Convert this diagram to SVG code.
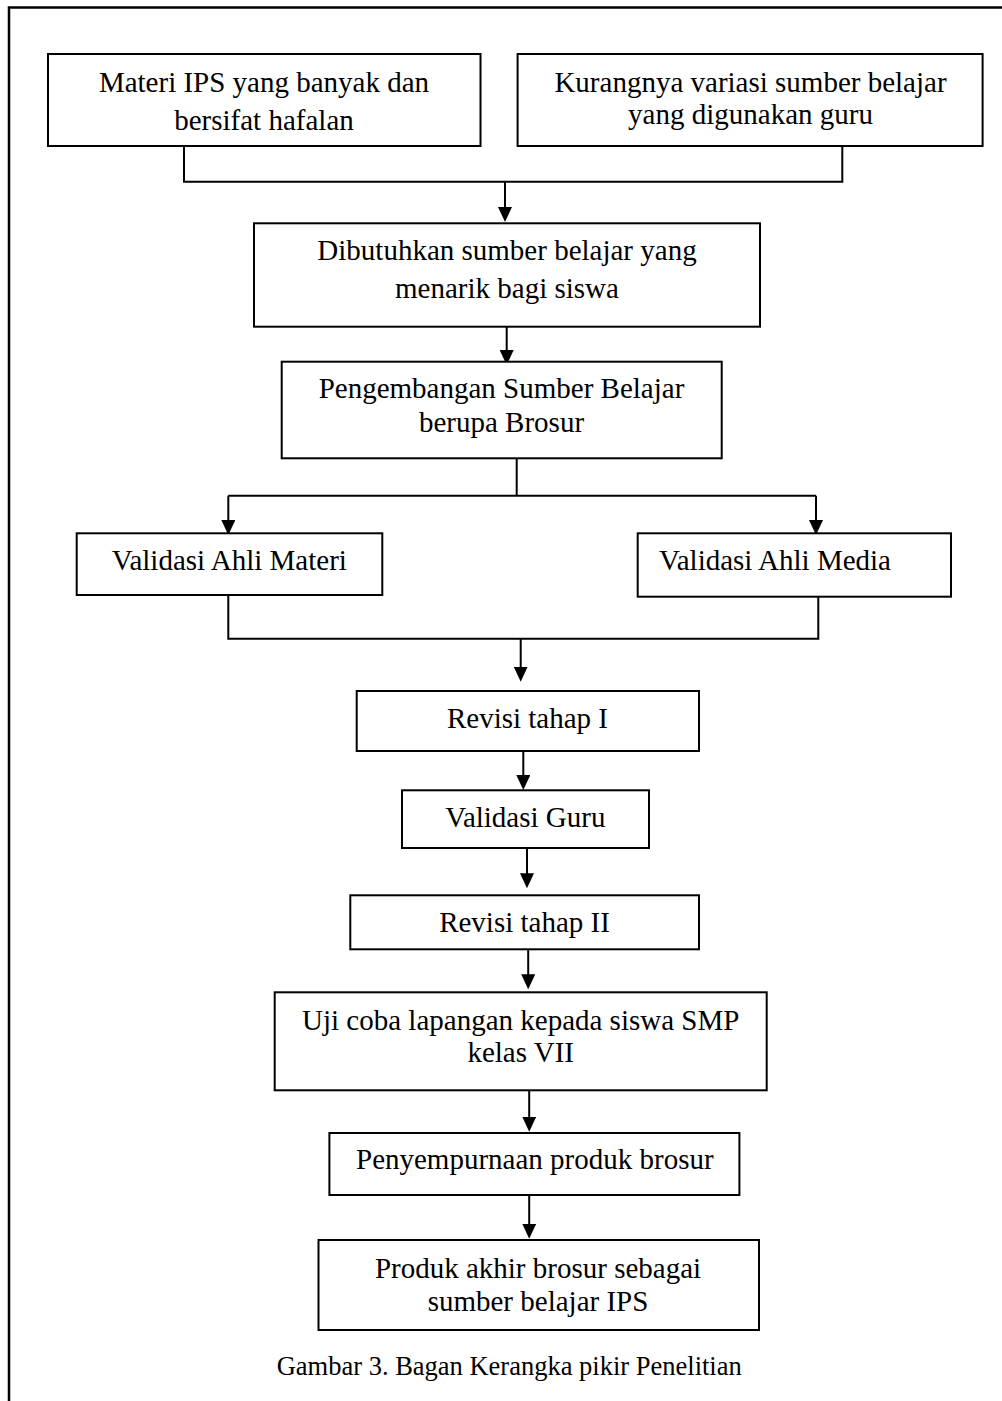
<svg xmlns="http://www.w3.org/2000/svg" width="1002" height="1401" viewBox="0 0 1002 1401">
<style>
.box{fill:#fff;stroke:#000;stroke-width:2}
.t{font-family:"Liberation Serif","Times New Roman",serif;font-size:29px;fill:#000;text-anchor:middle}
.ts{text-anchor:start}
.cap{font-family:"Liberation Serif","Times New Roman",serif;font-size:26.5px;fill:#000;text-anchor:middle}
.c{fill:none;stroke:#000;stroke-width:2}
.frame{fill:none;stroke:#000;stroke-width:2.5}
</style>
<defs>
<marker id="ah" viewBox="0 0 15 14" markerWidth="15" markerHeight="14" refX="5" refY="7" orient="auto" markerUnits="userSpaceOnUse">
<path d="M0,0 L15,7 L0,14 z" fill="#000"/>
</marker>
</defs>
<rect width="1002" height="1401" fill="#fff"/>
<path class="frame" d="M9,1401 V7.5 H1002"/>

<g id="connectors">
<path class="c" d="M184,146 V181.7 H842.3 V146"/>
<path class="c" d="M505,181.7 V212" marker-end="url(#ah)"/>
<path class="c" d="M506.7,326.7 V355" marker-end="url(#ah)"/>
<path class="c" d="M516.7,458.3 V495.7"/>
<path class="c" d="M228.3,495.7 H816"/>
<path class="c" d="M228.3,495.7 V525" marker-end="url(#ah)"/>
<path class="c" d="M816,495.7 V525" marker-end="url(#ah)"/>
<path class="c" d="M228.3,595 V638.7 H818.3 V595"/>
<path class="c" d="M520.7,638.7 V671.7" marker-end="url(#ah)"/>
<path class="c" d="M523.3,751 V780" marker-end="url(#ah)"/>
<path class="c" d="M527,848 V878.3" marker-end="url(#ah)"/>
<path class="c" d="M528.2,949.3 V979.3" marker-end="url(#ah)"/>
<path class="c" d="M529.2,1090.3 V1121.7" marker-end="url(#ah)"/>
<path class="c" d="M529.2,1195 V1228.7" marker-end="url(#ah)"/>
</g>

<g id="n1">
<rect class="box" x="48" y="54" width="432.5" height="92"/>
<text class="t" x="264" y="92">Materi IPS yang banyak dan</text>
<text class="t" x="264" y="130">bersifat hafalan</text>
</g>
<g id="n2">
<rect class="box" x="517.6" y="54" width="465" height="92"/>
<text class="t" x="750.5" y="92">Kurangnya variasi sumber belajar</text>
<text class="t" x="750.5" y="124">yang digunakan guru</text>
</g>
<g id="n3">
<rect class="box" x="254" y="223.3" width="506" height="103.4"/>
<text class="t" x="507" y="260">Dibutuhkan sumber belajar yang</text>
<text class="t" x="507" y="298.3">menarik bagi siswa</text>
</g>
<g id="n4">
<rect class="box" x="281.7" y="361.7" width="440" height="96.6"/>
<text class="t" x="501.5" y="398.3">Pengembangan Sumber Belajar</text>
<text class="t" x="501.5" y="431.7">berupa Brosur</text>
</g>
<g id="n5">
<rect class="box" x="76.7" y="533.3" width="305.6" height="61.7"/>
<text class="t" x="229.3" y="570">Validasi Ahli Materi</text>
</g>
<g id="n6">
<rect class="box" x="637.7" y="533.3" width="313.3" height="63.4"/>
<text class="t ts" x="659" y="570">Validasi Ahli Media</text>
</g>
<g id="n7">
<rect class="box" x="356.7" y="691" width="342.3" height="60"/>
<text class="t" x="527.5" y="727.7">Revisi tahap I</text>
</g>
<g id="n8">
<rect class="box" x="402" y="790.3" width="247" height="57.7"/>
<text class="t" x="525.3" y="827.3">Validasi Guru</text>
</g>
<g id="n9">
<rect class="box" x="350.3" y="895.3" width="348.7" height="54"/>
<text class="t" x="524.5" y="931.7">Revisi tahap II</text>
</g>
<g id="n10">
<rect class="box" x="274.7" y="992.3" width="492" height="98"/>
<text class="t" x="520.7" y="1030">Uji coba lapangan kepada siswa SMP</text>
<text class="t" x="520.7" y="1061.7">kelas VII</text>
</g>
<g id="n11">
<rect class="box" x="329.4" y="1133" width="410" height="62"/>
<text class="t" x="534.8" y="1169.3">Penyempurnaan produk brosur</text>
</g>
<g id="n12">
<rect class="box" x="318.5" y="1240" width="440.5" height="90"/>
<text class="t" x="538" y="1278.3">Produk akhir brosur sebagai</text>
<text class="t" x="538" y="1310.5">sumber belajar IPS</text>
</g>
<text class="cap" x="509.2" y="1375">Gambar 3. Bagan Kerangka pikir Penelitian</text>
</svg>
